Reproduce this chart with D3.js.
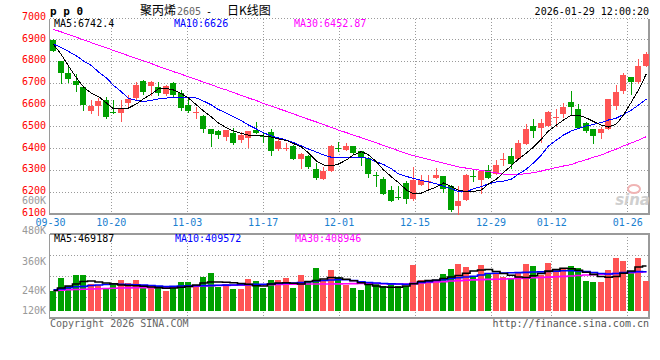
<!DOCTYPE html>
<html>
<head>
<meta charset="utf-8">
<title>pp0 日K线图</title>
<script src="https://cdn.jsdelivr.net/npm/d3@7"></script>
<style>
  body { margin: 0; background: #fff; }
</style>
</head>
<body>
<div id="chart"></div>
<script>
// trading days shown (MM-DD)
const dates = ["09-30","10-09","10-10","10-13","10-14","10-15","10-16","10-17","10-20","10-21",
  "10-22","10-23","10-24","10-27","10-28","10-29","10-30","10-31","11-03","11-04",
  "11-05","11-06","11-07","11-10","11-11","11-12","11-13","11-14","11-17","11-18",
  "11-19","11-20","11-21","11-24","11-25","11-26","11-27","11-28","12-01","12-02",
  "12-03","12-04","12-05","12-08","12-09","12-10","12-11","12-12","12-15","12-16",
  "12-17","12-18","12-19","12-22","12-23","12-24","12-25","12-26","12-29","12-30",
  "12-31","01-05","01-06","01-07","01-08","01-09","01-12","01-13","01-14","01-15",
  "01-16","01-19","01-20","01-21","01-22","01-23","01-26","01-27","01-28","01-29"];

const open = [6896,6801,6746,6708,6682,6571,6595,6621,6568,6560,
  6609,6629,6708,6687,6682,6649,6698,6652,6598,6562,
  6549,6488,6480,6453,6471,6437,6445,6483,6455,6476,
  6396,6399,6410,6349,6364,6304,6258,6297,6400,6392,
  6411,6387,6353,6278,6258,6208,6178,6242,6168,6231,
  6243,6262,6272,6228,6135,6162,6272,6256,6300,6280,
  6348,6364,6349,6419,6502,6494,6502,6539,6557,6610,
  6578,6514,6488,6468,6488,6595,6664,6725,6705,6778];
const high = [6900,6801,6771,6740,6682,6621,6629,6636,6621,6621,
  6644,6705,6712,6708,6705,6690,6705,6667,6630,6590,
  6552,6490,6482,6483,6491,6474,6480,6521,6470,6487,
  6445,6422,6414,6379,6370,6331,6312,6415,6430,6422,
  6412,6389,6358,6292,6269,6224,6224,6250,6312,6277,
  6277,6307,6272,6230,6224,6282,6298,6300,6323,6346,
  6376,6399,6437,6511,6534,6534,6572,6578,6606,6662,
  6603,6522,6489,6498,6626,6690,6746,6726,6810,6840];
const low = [6845,6700,6705,6664,6575,6560,6552,6537,6563,6526,
  6590,6621,6650,6644,6644,6644,6640,6575,6568,6540,
  6476,6411,6445,6437,6419,6430,6407,6468,6430,6369,
  6391,6392,6349,6310,6310,6257,6258,6297,6387,6392,
  6373,6323,6269,6226,6190,6159,6168,6150,6162,6231,
  6216,6262,6200,6113,6100,6162,6250,6194,6262,6280,
  6323,6308,6349,6419,6450,6430,6502,6502,6545,6552,
  6494,6476,6425,6445,6486,6578,6655,6650,6698,6778];
const close = [6847,6745,6717,6691,6598,6594,6618,6544,6565,6583,
  6624,6690,6658,6702,6654,6687,6644,6583,6572,6564,
  6488,6465,6461,6483,6425,6460,6479,6471,6450,6388,
  6434,6401,6352,6373,6315,6262,6297,6410,6396,6410,
  6379,6353,6281,6276,6190,6159,6176,6166,6254,6254,
  6251,6277,6211,6118,6158,6277,6270,6294,6265,6323,
  6350,6327,6422,6488,6479,6517,6564,6541,6587,6590,
  6494,6479,6456,6488,6626,6659,6736,6705,6777,6832];

// price moving averages as drawn
const ma5 = [6876,6828,6777,6722,6681,6651,6637,6607,6580,6580,
  6584,6603,6626,6649,6672,6674,6667,6649,6630,6598,
  6571,6543,6515,6493,6479,6467,6460,6458,6456,6451,
  6442,6435,6421,6405,6378,6341,6323,6318,6327,6346,
  6369,6384,6369,6337,6300,6268,6242,6208,6190,6194,
  6208,6222,6240,6224,6206,6201,6201,6208,6236,6258,
  6288,6320,6350,6378,6405,6442,6479,6506,6529,6552,
  6552,6538,6522,6506,6497,6511,6552,6612,6667,6742.4];
const ma10 = [6878,6860,6844,6823,6800,6779,6750,6722,6688,6658,
  6628,6619,6614,6619,6626,6630,6632,6632,6632,6630,
  6616,6598,6577,6561,6544,6525,6506,6488,6470,6456,
  6447,6437,6426,6410,6396,6382,6369,6358,6358,6358,
  6358,6357,6353,6337,6325,6305,6282,6270,6261,6252,
  6245,6236,6226,6213,6201,6201,6213,6224,6236,6245,
  6249,6258,6281,6304,6332,6369,6410,6437,6460,6479,
  6490,6502,6509,6518,6529,6538,6554,6575,6598,6626];
const ma30 = [6945,6933,6921,6909,6897,6884,6872,6861,6848,6836,
  6824,6812,6800,6788,6775,6763,6751,6739,6727,6715,
  6703,6691,6678,6667,6655,6642,6630,6618,6605,6593,
  6581,6569,6557,6544,6532,6520,6508,6495,6483,6471,
  6460,6448,6436,6424,6412,6400,6388,6376,6365,6357,
  6348,6339,6331,6322,6314,6308,6303,6298,6292,6286,
  6281,6277,6279,6283,6287,6295,6303,6311,6318,6325,
  6337,6347,6358,6369,6382,6396,6410,6424,6437,6452.87];

// volume in thousands of lots
const volume = [211,347,260,375,375,281,271,226,271,323,
  288,323,236,260,247,208,236,305,305,271,
  357,399,253,281,229,229,333,313,243,323,
  323,344,243,375,305,448,313,427,351,271,
  243,219,271,288,260,281,260,260,479,323,
  323,323,386,438,490,455,351,479,386,386,
  357,333,393,490,469,375,503,410,438,469,
  448,316,305,305,427,552,521,420,552,316];
const volMa5 = [214,240,261,281,307,313,302,292,283,271,
  266,263,258,250,244,237,240,247,255,271,
  292,302,302,299,295,287,278,263,261,281,
  292,295,289,281,307,318,333,349,344,330,
  315,294,276,261,250,247,248,261,284,307,
  316,323,339,354,370,393,417,427,432,412,
  391,373,354,349,367,391,415,431,445,440,
  424,403,382,359,351,359,393,417,458,469.187];
const volMa10 = [221,229,244,252,257,266,271,276,281,279,
  275,272,270,265,259,254,256,261,262,263,
  264,266,268,270,271,273,275,277,279,282,
  286,289,292,297,304,312,318,323,327,325,
  318,305,297,292,287,283,281,278,287,297,
  304,317,327,338,346,354,362,375,391,393,
  396,398,400,402,406,408,412,415,419,420,
  417,412,401,391,386,391,401,406,410,409.572];
const volMa30 = [213,217,221,224,227,229,232,234,237,239,
  241,242,243,244,246,247,249,252,255,259,
  262,264,266,267,268,270,271,273,274,275,
  277,278,280,281,281,281,281,282,283,284,
  285,287,288,287,284,282,281,281,285,292,
  297,302,306,312,316,320,324,327,329,331,
  333,336,339,342,346,349,353,356,361,365,
  370,375,379,383,387,391,395,399,403,408.946];

const dateTicks = ["09-30","10-20","11-03","11-17","12-01","12-15","12-29","01-12","01-26"];
const priceTicks = [6100,6200,6300,6400,6500,6600,6700,6800,6900,7000];
const volTickLabels = ["600K","480K","360K","240K","120K"];

const mono = "'DejaVu Sans Mono', 'Liberation Mono', monospace";
const cjk = "'Noto Sans CJK SC', 'Noto Sans', sans-serif";
const RED = "#ff5454", GREEN = "#00a000";
const W = 660, H = 360;
const plotL = 50, plotR = 649;
const pTop = 18.5, pBot = 213.5;
const vTop = 234.3, vBot = 318.3, vBase = 311;

const svg = d3.select("#chart").append("svg")
  .attr("width", W).attr("height", H)
  .style("display", "block");
svg.append("rect").attr("width", W).attr("height", H).attr("fill", "#fff");

// scales
const x = d3.scaleBand().domain(dates).range([49.3, 649.7]).paddingInner(0.2).paddingOuter(0.1);
const xg = d3.scalePoint().domain(dates).range([50, 650]);
const yP = d3.scaleLinear().domain([6100, 7000]).range([213.5, 17.4]);
const yV = d3.scaleLinear().domain([0, 800]).range([vBase, 234.2]);
const yVLab = d3.scaleOrdinal().domain(volTickLabels).range([200.7, 230, 261, 290, 310]);

const bx = d => Math.round(x(d) + x.bandwidth() / 2 - 3);
const cx = d => bx(d) + 3.5;
const idx = dates.map((d, i) => i);
const up = i => close[i] >= open[i];

// grid
const grid = svg.append("g").attr("stroke", "#9a9a9a").attr("stroke-dasharray", "1,2")
  .attr("shape-rendering", "crispEdges");
grid.selectAll(".hp").data(priceTicks.filter(t => t > 6100 && t < 7000)).enter().append("line")
  .attr("x1", plotL).attr("x2", plotR)
  .attr("y1", d => Math.round(yP(d)) + 0.5).attr("y2", d => Math.round(yP(d)) + 0.5);
grid.append("line").attr("x1", plotL).attr("x2", plotR).attr("y1", pTop).attr("y2", pTop);
grid.selectAll(".hv").data([0.25, 0.5, 0.75]).enter().append("line")
  .attr("x1", plotL).attr("x2", plotR)
  .attr("y1", f => Math.round(vTop + (vBot - vTop) * f) + 0.5)
  .attr("y2", f => Math.round(vTop + (vBot - vTop) * f) + 0.5);
grid.selectAll(".vp").data(dateTicks.slice(1)).enter().append("line")
  .attr("x1", d => Math.round(xg(d)) + 0.5).attr("x2", d => Math.round(xg(d)) + 0.5)
  .attr("y1", pTop).attr("y2", pBot);
grid.selectAll(".vv").data(dateTicks.slice(1)).enter().append("line")
  .attr("x1", d => Math.round(xg(d)) + 0.5).attr("x2", d => Math.round(xg(d)) + 0.5)
  .attr("y1", vTop).attr("y2", vBot + 3);

// frame
const frame = svg.append("g").attr("stroke", "#9a9a9a").attr("shape-rendering", "crispEdges");
frame.append("line").attr("x1", 49.5).attr("x2", 49.5).attr("y1", pTop).attr("y2", pBot + 1);
frame.append("line").attr("x1", plotL).attr("x2", plotR + 1).attr("y1", pBot).attr("y2", pBot).attr("stroke-width", 2);
frame.append("line").attr("x1", plotR).attr("x2", plotR).attr("y1", pTop).attr("y2", pBot).attr("stroke-width", 2);
frame.append("line").attr("x1", plotL).attr("x2", plotR + 1).attr("y1", vTop).attr("y2", vTop).attr("stroke-width", 2);
frame.append("line").attr("x1", plotL).attr("x2", plotR + 1).attr("y1", vBot).attr("y2", vBot).attr("stroke-width", 2);
frame.append("line").attr("x1", 49.5).attr("x2", 49.5).attr("y1", vTop).attr("y2", vBot + 1);
frame.append("line").attr("x1", plotR).attr("x2", plotR).attr("y1", vTop).attr("y2", vBot).attr("stroke-width", 2);

// watermark
const wm = svg.append("g");
wm.append("ellipse").attr("cx", 634).attr("cy", 189).attr("rx", 6).attr("ry", 4)
  .attr("fill", "none").attr("stroke", "#f0b4b4").attr("stroke-width", 2);
wm.append("text").attr("x", 650).attr("y", 205).attr("text-anchor", "end")
  .attr("font-family", "'DejaVu Sans', sans-serif").attr("font-size", 15)
  .attr("font-weight", "bold").attr("font-style", "italic").attr("fill", "#cfcfcf").text("sina");

// candles
const candles = svg.append("g").attr("shape-rendering", "crispEdges");
candles.selectAll(".wick").data(idx).enter().append("line")
  .attr("x1", i => cx(dates[i])).attr("x2", i => cx(dates[i]))
  .attr("y1", i => Math.round(yP(high[i]))).attr("y2", i => Math.round(yP(low[i])) + 1)
  .attr("stroke", i => up(i) ? RED : GREEN);
candles.selectAll(".body").data(idx).enter().append("rect")
  .attr("x", i => bx(dates[i])).attr("width", 6)
  .attr("y", i => Math.round(yP(Math.max(open[i], close[i]))))
  .attr("height", i => Math.max(1, Math.round(yP(Math.min(open[i], close[i]))) - Math.round(yP(Math.max(open[i], close[i])))))
  .attr("fill", i => up(i) ? RED : GREEN);

// price MA lines
const pLine = arr => d3.line().x((d, i) => cx(dates[i])).y(d => yP(d))(arr);
[[ma30, "#ff00ff"], [ma10, "#0000ff"], [ma5, "#000"]].forEach(([arr, c]) => {
  svg.append("path").attr("d", pLine(arr)).attr("fill", "none").attr("stroke", c)
    .attr("stroke-width", 1).attr("shape-rendering", "crispEdges");
});

// volume bars
svg.append("g").attr("shape-rendering", "crispEdges")
  .selectAll("rect").data(idx).enter().append("rect")
  .attr("x", i => bx(dates[i])).attr("width", 6)
  .attr("y", i => Math.round(yV(volume[i])))
  .attr("height", i => vBase - Math.round(yV(volume[i])))
  .attr("fill", i => up(i) ? RED : GREEN);

const vLine = arr => d3.line().curve(d3.curveStep).x((d, i) => cx(dates[i])).y(d => yV(d))(arr);
[[volMa30, "#ff00ff"], [volMa10, "#0000ff"], [volMa5, "#000"]].forEach(([arr, c]) => {
  svg.append("path").attr("d", vLine(arr)).attr("fill", "none").attr("stroke", c)
    .attr("stroke-width", 1.6);
});

// axes
svg.append("g").attr("transform", `translate(${plotL - 4},0)`)
  .call(d3.axisLeft(yP).tickValues(priceTicks).tickSize(0).tickPadding(0).tickFormat(d3.format("d")))
  .call(g => g.select(".domain").remove())
  .attr("font-family", mono).attr("font-size", 10)
  .selectAll("text").attr("fill", "#f00").attr("dy", "0.19em");

svg.append("g").attr("transform", `translate(0,${pBot})`)
  .call(d3.axisBottom(xg).tickValues(dateTicks).tickSize(0).tickPadding(0))
  .call(g => g.select(".domain").remove())
  .attr("font-family", mono).attr("font-size", 10)
  .selectAll("text").attr("y", 12).attr("dy", 0).attr("fill", "#1a80d0");

svg.append("g").selectAll("text").data(volTickLabels).enter().append("text")
  .attr("x", plotL - 4).attr("y", d => yVLab(d) + 3.6).attr("text-anchor", "end")
  .attr("font-family", mono).attr("font-size", 10).attr("fill", "#999").text(d => d);

// headings
const txt = (x0, y0, s, opts = {}) => svg.append("text").attr("x", x0).attr("y", y0)
  .attr("font-family", opts.font || mono).attr("font-size", opts.size || 10)
  .attr("fill", opts.color || "#000").attr("font-weight", opts.weight || "normal")
  .attr("text-anchor", opts.anchor || "start").text(s);

txt(50, 14.5, "p p 0", { size: 11, weight: "bold" });
txt(140, 15, "聚丙烯", { font: cjk, size: 12 });
txt(177, 15, "2605", { size: 10, color: "#666" });
txt(206, 15, "-", { size: 10 });
txt(227, 15, "日K线图", { font: cjk, size: 12 });
txt(649, 14.5, "2026-01-29 12:00:20", { anchor: "end" });

const last = arr => arr[arr.length - 1];
txt(54, 27, `MA5:${last(ma5)}`);
txt(174, 27, `MA10:${last(ma10)}`, { color: "#0000ff" });
txt(294, 27, `MA30:${last(ma30)}`, { color: "#ff00ff" });
txt(54, 242, `MA5:${Math.round(last(volMa5) * 1000)}`);
txt(175, 242, `MA10:${Math.round(last(volMa10) * 1000)}`, { color: "#0000ff" });
txt(295, 242, `MA30:${Math.round(last(volMa30) * 1000)}`, { color: "#ff00ff" });

txt(50, 326.5, "Copyright 2026 SINA.COM", { color: "#666" });
txt(649, 326.5, "http://finance.sina.com.cn", { color: "#555", anchor: "end" });
</script>
</body>
</html>
